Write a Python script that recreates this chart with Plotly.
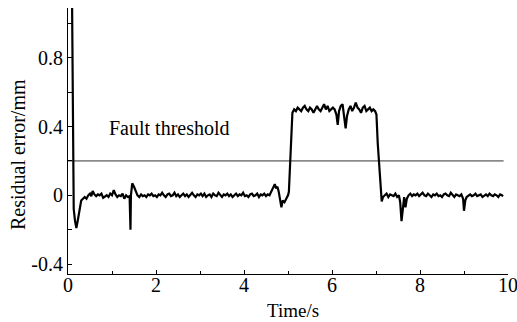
import plotly.graph_objects as go

# Residual signal (time in s, residual in mm)
time_a = [0.09, 0.12, 0.13, 0.16, 0.19, 0.22, 0.26, 0.30, 0.34, 0.38, 0.42, 0.46, 0.50, 0.53,
          0.56, 0.60, 0.64, 0.68, 0.72, 0.76, 0.80, 0.84, 0.88, 0.92, 0.96, 1.00, 1.04, 1.08,
          1.12, 1.16, 1.20, 1.24, 1.28, 1.32, 1.36, 1.40, 1.42, 1.43, 1.46, 1.50, 1.54, 1.58, 1.62]
resid_a = [1.2, 0.27, -0.08, -0.15, -0.19, -0.15, -0.08, -0.03, -0.02, -0.01, -0.02, 0.0, 0.01, -0.005,
           0.025, 0.005, -0.005, 0.005, 0.0, 0.01, -0.015, -0.005, 0.0, -0.01, 0.01, 0.0, 0.03, 0.005,
           -0.01, 0.0, -0.005, 0.01, -0.02, 0.0, -0.01, -0.005, -0.2, 0.0, 0.07, 0.05, 0.02, 0.0, -0.01]

time_b = [1.66, 1.70, 1.74, 1.78, 1.82, 1.86, 1.90, 1.94, 1.98, 2.02, 2.06, 2.10, 2.14, 2.18, 2.22,
          2.26, 2.30, 2.34, 2.38, 2.42, 2.46, 2.50, 2.54, 2.58, 2.62, 2.66, 2.70, 2.74, 2.78, 2.82,
          2.86, 2.90, 2.94, 2.98, 3.02, 3.06, 3.10, 3.14, 3.18, 3.22, 3.26, 3.30, 3.34, 3.38, 3.42,
          3.46, 3.50, 3.54, 3.58, 3.62, 3.66, 3.70, 3.74, 3.78, 3.82, 3.86, 3.90, 3.94, 3.98, 4.02,
          4.06, 4.10, 4.14, 4.18, 4.22, 4.26, 4.30, 4.34, 4.38, 4.42, 4.46, 4.50, 4.54, 4.58]
resid_b = [0.005, -0.005, 0.0, -0.01, 0.005, 0.0, 0.01, -0.005, 0.0, -0.01, 0.005, 0.0, 0.015, 0.0, -0.01,
           0.005, 0.01, -0.005, 0.0, 0.015, -0.005, 0.005, -0.01, 0.0, 0.01, -0.005, 0.005, -0.01, 0.0, 0.015,
           0.0, -0.01, 0.005, 0.0, 0.01, -0.005, 0.01, -0.01, 0.0, 0.005, -0.01, 0.01, 0.0, -0.005, 0.015,
           0.0, -0.01, 0.005, 0.0, 0.01, -0.005, 0.005, -0.01, 0.0, 0.01, -0.005, 0.005, 0.0, 0.015, -0.005,
           0.0, -0.01, 0.005, 0.01, -0.005, 0.0, 0.01, -0.01, 0.005, 0.0, 0.01, -0.005, 0.005, 0.0]

time_c = [4.62, 4.66, 4.70, 4.73, 4.76, 4.79, 4.82, 4.85, 4.88, 4.92, 4.96, 5.00, 5.02, 5.06, 5.10,
          5.14, 5.18, 5.22, 5.26, 5.30, 5.34, 5.38, 5.42, 5.46, 5.50, 5.54, 5.58, 5.62, 5.66, 5.70,
          5.74, 5.78, 5.82, 5.86, 5.90, 5.94, 5.98, 6.02, 6.06, 6.10, 6.13, 6.16, 6.20, 6.24, 6.27,
          6.31, 6.34, 6.38, 6.42, 6.46, 6.50, 6.54, 6.58, 6.62, 6.66, 6.70, 6.74, 6.78, 6.82, 6.86,
          6.90, 6.94, 6.98, 7.01, 7.04, 7.07, 7.10, 7.13]
resid_c = [0.02, 0.04, 0.065, 0.04, 0.05, 0.02, -0.02, -0.07, -0.03, -0.04, -0.02, 0.0, 0.02, 0.25, 0.48,
           0.5, 0.49, 0.51, 0.5, 0.49, 0.51, 0.52, 0.5, 0.49, 0.51, 0.5, 0.48, 0.5, 0.52, 0.5,
           0.49, 0.51, 0.53, 0.5, 0.52, 0.49, 0.5, 0.51, 0.5, 0.47, 0.41, 0.49, 0.52, 0.53, 0.47,
           0.39, 0.46, 0.5, 0.52, 0.49, 0.51, 0.54, 0.51, 0.5, 0.48, 0.51, 0.52, 0.49, 0.5, 0.51,
           0.49, 0.5, 0.49, 0.47, 0.3, 0.2, 0.05, -0.035]

time_d = [7.16, 7.20, 7.24, 7.28, 7.32, 7.36, 7.40, 7.44, 7.48, 7.52, 7.55, 7.58, 7.61, 7.64, 7.67,
          7.70, 7.74, 7.78, 7.82, 7.86, 7.90, 7.94, 7.98, 8.02, 8.06, 8.10, 8.14, 8.18, 8.22, 8.26,
          8.30, 8.34, 8.38, 8.42, 8.46, 8.50, 8.54, 8.58, 8.62, 8.66, 8.70, 8.74, 8.78, 8.82, 8.86,
          8.90, 8.94, 8.98, 9.00, 9.03, 9.06, 9.10, 9.14, 9.18, 9.22, 9.26, 9.30, 9.34, 9.38, 9.42,
          9.46, 9.50, 9.54, 9.58, 9.62, 9.66, 9.70, 9.74, 9.78, 9.82, 9.86, 9.89]
resid_d = [-0.01, 0.0, 0.01, -0.01, 0.005, 0.0, -0.005, 0.01, -0.01, 0.0, -0.04, -0.15, -0.06, -0.01, -0.07,
           -0.02, 0.0, 0.01, -0.005, 0.005, 0.0, 0.01, -0.005, 0.005, 0.015, 0.0, -0.005, 0.01, 0.0, -0.01,
           0.005, 0.0, 0.01, -0.005, 0.0, -0.01, 0.005, 0.01, 0.0, -0.005, 0.015, 0.0, -0.01, 0.005, 0.0,
           -0.005, 0.005, -0.02, -0.09, -0.03, -0.01, 0.0, 0.005, -0.005, 0.0, 0.01, -0.005, 0.0, 0.005, -0.01,
           0.0, 0.005, -0.005, 0.01, 0.0, -0.005, 0.005, 0.0, -0.01, 0.005, 0.0, -0.005]

threshold_t = [0.0, 9.9]
threshold_v = [0.2, 0.2]

x_tickvals = [0, 2, 4, 6, 8, 10]
x_ticktext = ["0", "2", "4", "6", "8", "10"]
y_tickvals = [-0.4, 0, 0.4, 0.8]
y_ticktext = ["-0.4", "0", "0.4", "0.8"]

time_all = time_a + time_b + time_c + time_d
resid_all = resid_a + resid_b + resid_c + resid_d

FONT = "Liberation Serif"
TICKFONT = dict(family=FONT, size=20, color="black")

W, H = 517, 322
ml, mr, mt, mb = 68, 9, 8, 48
pw, ph = W - ml - mr, H - mt - mb

fig = go.Figure()
fig.add_trace(go.Scatter(x=threshold_t, y=threshold_v, mode="lines",
                         line=dict(color="#333333", width=1), showlegend=False, hoverinfo="skip"))
fig.add_trace(go.Scatter(x=time_all, y=resid_all, mode="lines",
                         line=dict(color="black", width=2.2), showlegend=False))

fig.add_annotation(x=0.876, y=0.394, text="Fault threshold", showarrow=False,
                   xanchor="left", yanchor="middle", font=dict(family=FONT, size=20, color="black"))
# axis titles (placed from pixel positions in the reference)
fig.add_annotation(x=(293 - ml) / pw, xref="paper", y=(H - mb - 310) / ph, yref="paper",
                   text="Time/s", showarrow=False, xanchor="center", yanchor="middle",
                   font=dict(family=FONT, size=19, color="black"))
fig.add_annotation(x=(18 - ml) / pw, xref="paper", y=(H - mb - 155) / ph, yref="paper",
                   text="Residual error/mm", showarrow=False, textangle=-90,
                   xanchor="center", yanchor="middle", font=dict(family=FONT, size=20, color="black"))

fig.update_layout(
    width=W, height=H,
    margin=dict(l=ml, r=mr, t=mt, b=mb, autoexpand=False),
    paper_bgcolor="white", plot_bgcolor="white",
    font=dict(family=FONT, size=20, color="black"),
    xaxis=dict(range=[0, 10], tickvals=x_tickvals, ticktext=x_ticktext, tickfont=TICKFONT,
               ticks="inside", ticklen=4, tickcolor="black", showline=True, linecolor="black",
               linewidth=1, showgrid=False, zeroline=False, automargin=False,
               ticklabeloverflow="allow", ticklabelstandoff=-7,
               minor=dict(tickvals=[1, 3, 5, 7, 9], ticks="inside", ticklen=3, tickcolor="black")),
    yaxis=dict(range=[-0.458, 1.09], tickvals=y_tickvals, ticktext=y_ticktext, tickfont=TICKFONT,
               ticks="inside", ticklen=4, tickcolor="black", showline=True, linecolor="black",
               linewidth=1, showgrid=False, zeroline=False, automargin=False,
               ticklabeloverflow="allow",
               minor=dict(tickvals=[-0.2, 0.2, 0.6, 1.0], ticks="inside", ticklen=4, tickcolor="black")),
)

fig.write_html("out.html", config={"displayModeBar": False},
               post_script="document.body.style.margin='0';document.body.style.overflow='hidden';")
